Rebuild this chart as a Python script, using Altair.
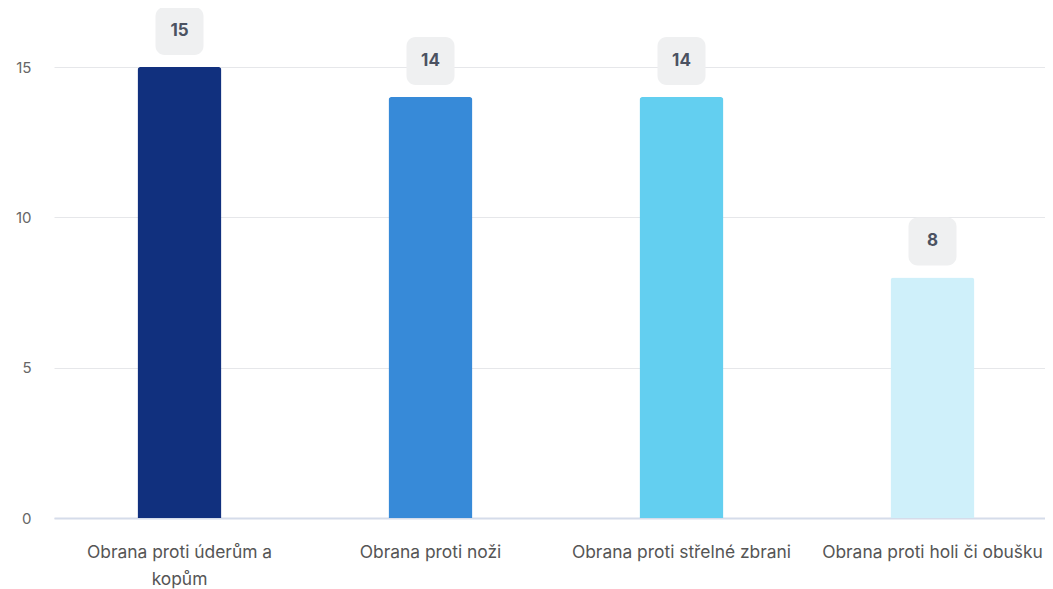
import altair as alt
import pandas as pd

categories = ["Obrana proti úderům a kopům", "Obrana proti noži",
              "Obrana proti střelné zbrani", "Obrana proti holi či obušku"]
values = [15, 14, 14, 8]
colors = ["#11307e", "#378ad8", "#63cff0", "#cff0fa"]

df = pd.DataFrame({"cat": categories, "val": values, "col": colors})

x = alt.X("cat:N", sort=categories, title=None,
          scale=alt.Scale(paddingInner=0, paddingOuter=0, range=[0, 1004]),
          axis=alt.Axis(labelAngle=0, labelFont="Inter", labelFontSize=17.4,
                        labelColor="#555555", labelPadding=25, ticks=False,
                        domainColor="#d5dcea", domainWidth=2, labelLimit=300,
                        labelLineHeight=27,
                        labelExpr="datum.label == 'Obrana proti úderům a kopům' ? ['Obrana proti úderům a', 'kopům'] : datum.label"))
y = alt.Y("val:Q", title=None,
          scale=alt.Scale(domain=[0, 15], nice=False),
          axis=alt.Axis(values=[0, 5, 10, 15], labelFont="Inter", labelFontSize=15,
                        labelColor="#666666", labelPadding=23, ticks=False,
                        domain=False, gridColor="#e6e7ea", gridWidth=1))

base = alt.Chart(df)

bars = base.mark_bar(size=84, cornerRadiusTopLeft=3, cornerRadiusTopRight=3).encode(
    x=x, y=y, color=alt.Color("col:N", scale=None))

boxes = base.mark_bar(size=48, cornerRadius=9, color="#eff0f1",
                      yOffset=-60, y2Offset=-12).encode(
    x=alt.X("cat:N", sort=categories), y="val:Q", y2="val:Q")

labels = base.mark_text(dy=-36, font="Inter", fontSize=17, fontWeight="bold",
                        color="#4b5261").encode(
    x=alt.X("cat:N", sort=categories), y="val:Q", text="val:Q")

chart = (bars + boxes + labels).properties(
    width=991, height=451,
    autosize=alt.AutoSizeParams(type="none"),
    padding={"left": 46, "top": 59, "right": 0, "bottom": 76},
).configure_view(stroke=None)

chart.save("out.html", embed_options={"renderer": "svg", "actions": False})
